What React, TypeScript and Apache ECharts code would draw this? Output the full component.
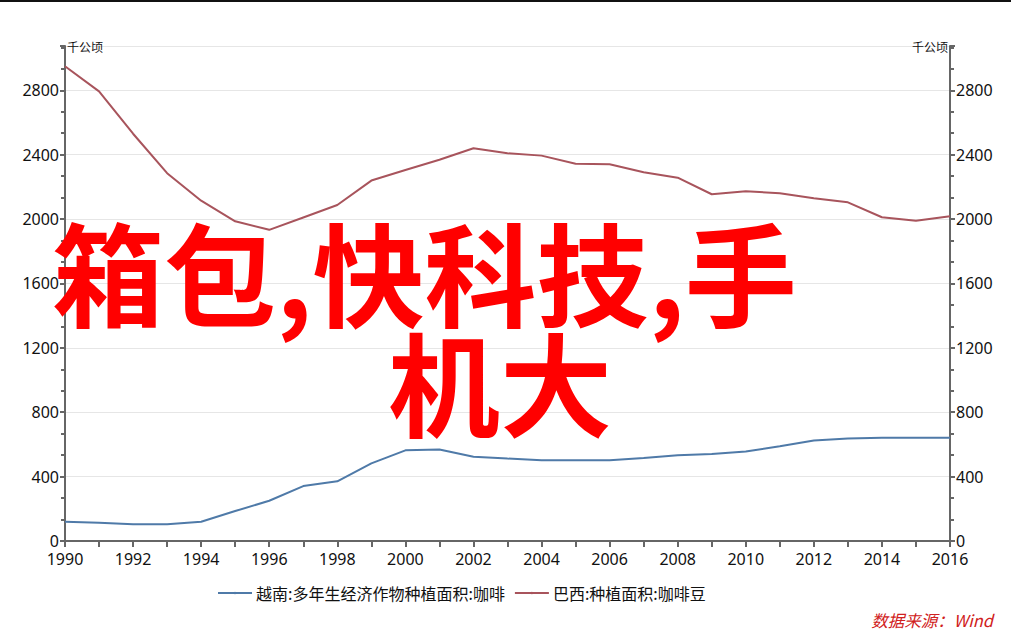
import React, { useEffect, useRef } from "react";
import * as echarts from "echarts";

const years: number[] = [
  1990, 1991, 1992, 1993, 1994, 1995, 1996, 1997, 1998, 1999, 2000, 2001, 2002,
  2003, 2004, 2005, 2006, 2007, 2008, 2009, 2010, 2011, 2012, 2013, 2014, 2015, 2016,
];
const vietnam: number[] = [
  120, 114, 104, 104, 120, 186, 250, 341, 371, 482, 563, 569, 524,
  512, 501, 501, 501, 515, 532, 540, 556, 589, 624, 636, 642, 642, 642,
];
const brazil: number[] = [
  2949, 2793, 2530, 2285, 2114, 1986, 1933, 2010, 2087, 2239, 2305, 2368, 2440,
  2409, 2394, 2343, 2341, 2291, 2257, 2154, 2173, 2160, 2129, 2104, 2011, 1989, 2017,
];
const seriesNames: string[] = ["越南:多年生经济作物种植面积:咖啡", "巴西:种植面积:咖啡豆"];
const unitName = "千公顷";
const sourceText = "数据来源：Wind";
const watermarkLines: string[] = ["箱包,快科技,手", "机大"];

const FONT = "'Noto Sans', 'Noto Sans CJK SC', sans-serif";
const CJK = "'Noto Sans CJK SC', 'Noto Sans', sans-serif";

export default function App() {
  const ref = useRef<HTMLDivElement>(null);
  useEffect(() => {
    if (!ref.current) return;
    const chart = echarts.init(ref.current, undefined, { renderer: "svg" });
    const axisLine = { show: true, lineStyle: { color: "#666", width: 2 } };
    const yAxisBase = {
      type: "value" as const,
      min: 0,
      max: 3075,
      interval: 400,
      name: unitName,
      nameLocation: "end" as const,
      nameGap: 0,
      axisLine,
      axisTick: { show: true, inside: false, length: 5, lineStyle: { color: "#666", width: 2 } },
      minorTick: { show: true, splitNumber: 3, length: 4, lineStyle: { color: "#666", width: 2 } },
      axisLabel: {
        color: "#111",
        fontSize: 16,
        fontFamily: FONT,
        margin: 6,
        showMaxLabel: false,
        formatter: (v: number) => String(v),
      },
    };
    chart.setOption({
      animation: false,
      backgroundColor: "#fff",
      grid: { left: 65, right: 61, top: 46, bottom: 91, containLabel: false },
      xAxis: {
        type: "value",
        min: 1990,
        max: 2016,
        interval: 2,
        axisLine,
        axisTick: { show: true, length: 6, lineStyle: { color: "#666", width: 2 } },
        minorTick: { show: true, splitNumber: 2, length: 6, lineStyle: { color: "#666", width: 2 } },
        splitLine: { show: false },
        axisLabel: {
          color: "#111",
          fontSize: 16,
          fontFamily: FONT,
          margin: 10,
          formatter: (v: number) => String(v),
        },
      },
      yAxis: [
        {
          ...yAxisBase,
          position: "left",
          nameTextStyle: { color: "#111", fontSize: 12, fontFamily: CJK, align: "left", verticalAlign: "middle", padding: [0, 0, 0, 2] },
          splitLine: { show: true, lineStyle: { color: "#e6e6e6", width: 1 } },
        },
        {
          ...yAxisBase,
          position: "right",
          nameTextStyle: { color: "#111", fontSize: 12, fontFamily: CJK, align: "right", verticalAlign: "middle", padding: [0, 2, 0, 0] },
          splitLine: { show: false },
        },
      ],
      legend: {
        bottom: 26,
        left: 212,
        itemWidth: 34,
        itemHeight: 3,
        itemGap: 9,
        textStyle: { color: "#111", fontSize: 16, fontFamily: CJK, padding: [0, 0, 0, -1] },
        data: seriesNames,
      },
      series: [
        {
          name: seriesNames[0],
          type: "line",
          symbol: "none",
          yAxisIndex: 0,
          data: years.map((y, i) => [y, vietnam[i]]),
          lineStyle: { color: "#4f7aa8", width: 2 },
          itemStyle: { color: "#4f7aa8" },
        },
        {
          name: seriesNames[1],
          type: "line",
          symbol: "none",
          yAxisIndex: 0,
          data: years.map((y, i) => [y, brazil[i]]),
          lineStyle: { color: "#a8545c", width: 2 },
          itemStyle: { color: "#a8545c" },
        },
      ],
      graphic: [
        {
          type: "line",
          shape: { x1: 0, y1: 1, x2: 1011, y2: 1 },
          style: { stroke: "#111", lineWidth: 2 },
        },
        {
          type: "text",
          left: 52,
          top: 214,
          z: 100,
          style: {
            text: watermarkLines[0],
            fill: "#ff0000",
            font: `bold 112px ${CJK}`,
          },
        },
        {
          type: "text",
          left: 388,
          top: 324,
          z: 100,
          style: {
            text: watermarkLines[1],
            fill: "#ff0000",
            font: `bold 112px ${CJK}`,
          },
        },
        {
          type: "text",
          right: 18,
          top: 612,
          style: {
            text: sourceText,
            fill: "#d02020",
            font: `italic 16.5px ${CJK}`,
          },
        },
      ],
    });
    return () => chart.dispose();
  }, []);
  return <div ref={ref} style={{ width: 1011, height: 632, position: "absolute", left: 0, top: 0 }} />;
}
